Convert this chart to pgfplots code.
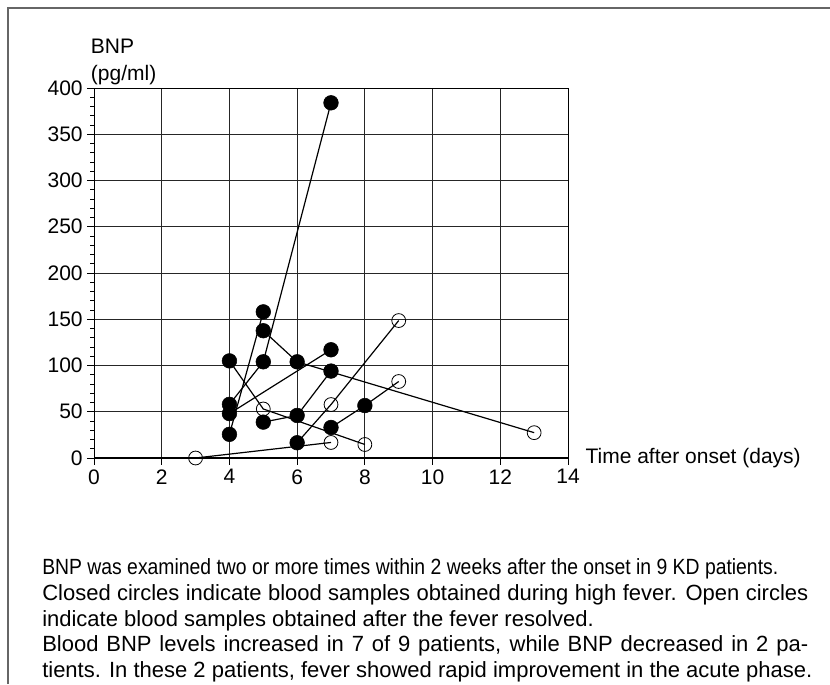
\documentclass[border=0pt]{standalone}
\usepackage{fontspec}
\setmainfont{Liberation Sans}
\usepackage{graphicx}
\usepackage{pgfplots}
\pgfplotsset{compat=1.18}

\newcommand\capfont{\fontsize{16.5}{19}\selectfont}
\newcommand\labfont{\fontsize{15.75}{18}\selectfont}

\begin{document}
\begin{tikzpicture}
\useasboundingbox (0,0) rectangle (622.5pt,-513pt);
% outer frame (left and top only)
\draw[black!60, line width=1.3pt] (6.2pt,-513pt) -- (6.2pt,-6.2pt) -- (622.5pt,-6.2pt);

\begin{axis}[
    at={(70.5pt,-343.5pt)}, anchor=south west,
    scale only axis, width=355.5pt, height=277.5pt,
    xmin=0, xmax=14, ymin=0, ymax=400,
    xtick={0,2,...,14}, ytick={0,50,...,400},
    minor y tick num=4,
    xmajorgrids=true, ymajorgrids=true,
    grid style={black!85, line width=0.6pt},
    tick align=outside, tick pos=left,
    major tick length=5pt, minor tick length=2.8pt,
    tick style={black, line width=0.6pt},
    axis line style={line width=0.7pt},
    ticklabel style={font=\labfont},
    /pgf/number format/assume math mode=true,
    clip=false,
]
% lines, one per patient
\addplot[black, line width=0.9pt] coordinates {(4,25.6) (5,158)};
\addplot[black, line width=0.9pt] coordinates {(4,58) (5,104) (7,384)};
\addplot[black, line width=0.9pt] coordinates {(4,48) (7,117)};
\addplot[black, line width=0.9pt] coordinates {(4,105) (5,53) (8,14.6)};
\addplot[black, line width=0.9pt] coordinates {(5,137.6) (6,104) (13,27.4)};
\addplot[black, line width=0.9pt] coordinates {(5,38.8) (6,46) (7,94)};
\addplot[black, line width=0.9pt] coordinates {(6,16.5) (7,57.8) (9,148.6)};
\addplot[black, line width=0.9pt] coordinates {(7,33) (8,56.7) (9,82.7)};
\addplot[black, line width=0.9pt] coordinates {(3,0) (7,16.8)};
% thick base line
\draw[black, line width=1.6pt] (axis cs:0,0) -- (axis cs:14,0);
% closed circles: during high fever
\addplot[only marks, mark=*, mark size=5.5pt, black] coordinates {
  (7,384) (5,158) (5,137.6) (4,105) (5,104) (6,104) (7,117) (7,94)
  (4,58) (4,48) (4,25.6) (5,38.8) (6,46) (8,56.7) (7,33) (6,16.5)};
% open circles: after fever resolved
\addplot[only marks, mark=o, mark size=5.2pt, black, mark options={line width=0.6pt}] coordinates {
  (9,148.6) (9,82.7) (7,57.8) (5,53) (7,16.8) (8,14.6) (13,27.4) (3,0)};
\end{axis}

\node[anchor=west, inner sep=0, font=\labfont] at (68pt,-35pt) {BNP};
\node[anchor=west, inner sep=0, font=\labfont] at (68pt,-56pt) {(pg/ml)};
\node[anchor=west, inner sep=0, font=\labfont] at (439pt,-343.5pt) {Time after onset (days)};

\begin{scope}[every node/.style={anchor=base west, inner sep=0, font=\capfont}]
\node at (31.5pt,-431pt) {\resizebox{552pt}{\height}{BNP was examined two or more times within 2 weeks after the onset in 9 KD patients.}};
\node at (31.5pt,-450.3pt) {\makebox[574.5pt][s]{Closed circles indicate blood samples obtained during high fever. Open circles}};
\node at (31.5pt,-469.6pt) {indicate blood samples obtained after the fever resolved.};
\node at (31.5pt,-488.9pt) {\makebox[574.5pt][s]{Blood BNP levels increased in 7 of 9 patients, while BNP decreased in 2 pa-}};
\node at (31.5pt,-508.2pt) {tients. In these 2 patients, fever showed rapid improvement in the acute phase.};
\end{scope}
\end{tikzpicture}
\end{document}
